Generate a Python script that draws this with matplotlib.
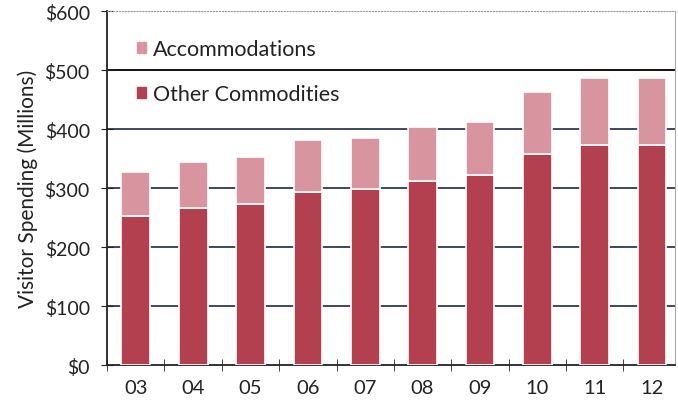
import numpy as np
import matplotlib.pyplot as plt
from matplotlib.patches import Patch

years = ['03', '04', '05', '06', '07', '08', '09', '10', '11', '12']
other = [253, 266, 273, 293, 298, 312, 322, 357, 373, 373]
accom = [74, 78, 79, 88, 87, 91, 90, 106, 113, 113]

c_other = '#b2404f'
c_accom = '#d9959f'
txt = '#222222'

plt.rcParams['font.family'] = ['Lato', 'DejaVu Sans']

fig = plt.figure(figsize=(6.78, 4.06), dpi=100)
ax = fig.add_axes([0.158, 0.0985, 0.8376, 0.8715])

x = np.arange(len(years))
ax.bar(x, other, width=0.5, color=c_other, edgecolor='white', linewidth=1.2, zorder=3)
ax.bar(x, accom, bottom=other, width=0.5, color=c_accom, edgecolor='white', linewidth=1.2, zorder=3)

for v in [100, 200, 300, 400]:
    ax.axhline(v, color='#2e3a52', linewidth=1.3, zorder=1)
ax.axhline(500, color='#111111', linewidth=1.4, zorder=1)

ax.set_xlim(-0.47, 9.4)
ax.set_ylim(0, 600)
ax.set_yticks(range(0, 601, 100))
ax.set_yticklabels(['$%d' % v for v in range(0, 601, 100)])
ax.set_xticks(x)
ax.set_xticklabels(years)
ax.set_xticks(np.arange(-0.5, 9.0, 1.0), minor=True)
ax.tick_params(axis='x', which='major', length=0, pad=10, labelsize=14.5, colors=txt)
ax.tick_params(axis='x', which='minor', length=8, direction='inout', color='#222222')
ax.tick_params(axis='y', length=9, direction='inout', pad=8, labelsize=14, colors=txt)

for s in ['left', 'bottom']:
    ax.spines[s].set_color('#222222')
    ax.spines[s].set_linewidth(1.3)
ax.spines['top'].set_color('#999999')
ax.spines['top'].set_linestyle(':')
ax.spines['right'].set_color('#aaaaaa')
ax.spines['right'].set_linewidth(0.8)

ax.set_ylabel('Visitor Spending (Millions)', fontsize=15, color=txt, labelpad=5)

handles = [Patch(facecolor=c_accom, edgecolor=c_accom), Patch(facecolor=c_other, edgecolor=c_other)]
ax.legend(handles, ['Accommodations', 'Other Commodities'], loc='upper left',
          bbox_to_anchor=(0.018, 0.975), frameon=False, fontsize=15.5,
          handlelength=0.42, handleheight=0.42, handletextpad=0.35, labelspacing=1.15,
          labelcolor=txt)

fig.savefig('out.png', dpi=100)
